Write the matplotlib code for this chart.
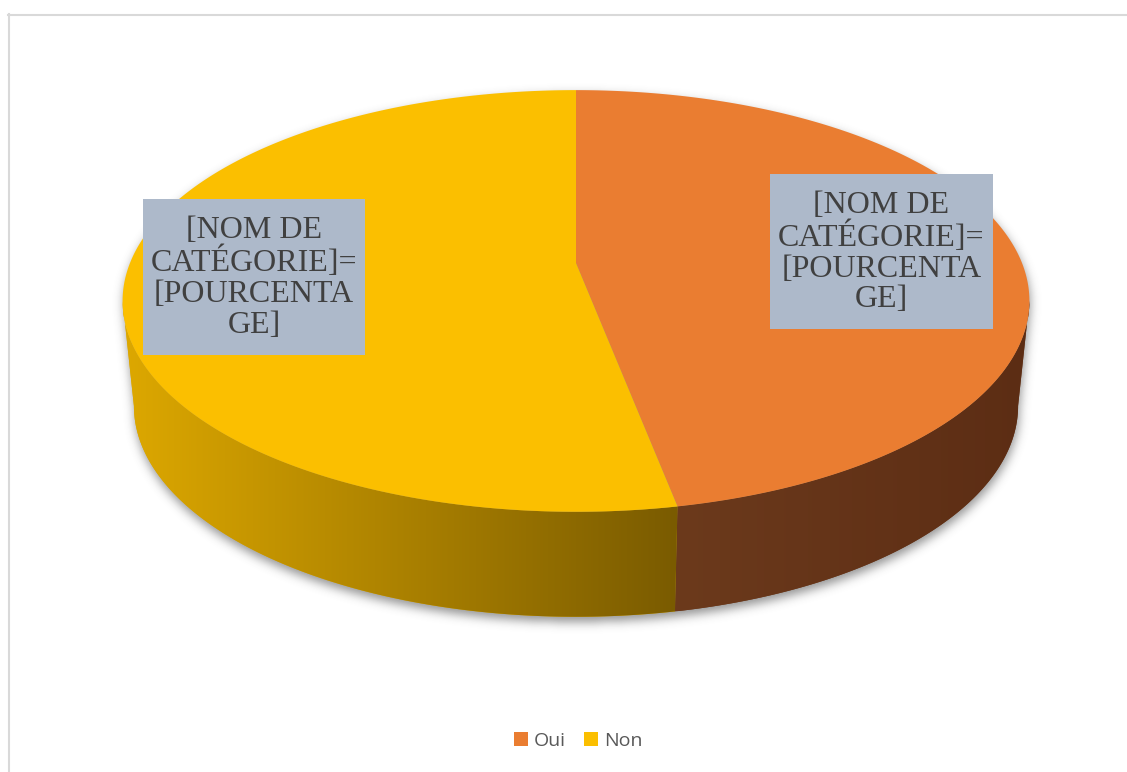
import numpy as np
import matplotlib.pyplot as plt
from matplotlib.patches import Polygon, Rectangle, Patch
from matplotlib.path import Path
from matplotlib.colors import LinearSegmentedColormap

# Donnees
categories = ['Oui', 'Non']
pourcentages = [47, 53]
couleurs_dessus = ['#EA7D31', '#FBBF00']
etiquette = '[NOM DE\nCATÉGORIE]=\n[POURCENTA\nGE]'

# Figure en coordonnees pixels
W, H = 1127, 772
fig = plt.figure(figsize=(W / 100, H / 100), dpi=100)
ax = fig.add_axes([0, 0, 1, 1])
ax.set_xlim(0, W)
ax.set_ylim(H, 0)
ax.axis('off')

# Geometrie du camembert 3D (perspective simple)
cx, cy = 576, 263
A, B, k = 446, 204, 0.18
epaisseur = 105
ech_bas = 0.975


def proj(theta, bas=False):
    u = np.sin(theta)
    v = np.cos(theta)
    w = 1 + k * v
    x = A * u / w
    y = -B * v / w
    if bas:
        x = x * ech_bas
        y = y + epaisseur
    return cx + x, cy + y


# angles cumules (sens horaire depuis le haut)
fractions = np.array(pourcentages) / np.sum(pourcentages)
bornes = np.concatenate([[0], np.cumsum(fractions)]) * 2 * np.pi

# limites de la face laterale visible
t_droite = np.arccos(-k)
t_gauche = 2 * np.pi - np.arccos(-k)

# Ombre floue sous le camembert
t_dos = np.linspace(t_gauche - 2 * np.pi, t_droite, 300)
t_av = np.linspace(t_droite, t_gauche, 300)
xs1, ys1 = proj(t_dos)
xs2, ys2 = proj(t_av, bas=True)
contour = np.column_stack([np.concatenate([xs1, xs2]), np.concatenate([ys1, ys2])])
gx, gy = np.meshgrid(np.arange(W) + 0.5, np.arange(H) + 0.5)
masque = Path(contour + [1, 5]).contains_points(
    np.column_stack([gx.ravel(), gy.ravel()])).reshape(H, W).astype(float)
sig = 5
kx = np.arange(-15, 16)
noyau = np.exp(-kx ** 2 / (2 * sig ** 2))
noyau /= noyau.sum()
flou = np.apply_along_axis(lambda r: np.convolve(r, noyau, mode='same'), 1, masque)
flou = np.apply_along_axis(lambda c: np.convolve(c, noyau, mode='same'), 0, flou)
ombre = np.zeros((H, W, 4))
ombre[..., :3] = 0.3
ombre[..., 3] = flou * 0.6
ax.imshow(ombre, extent=(0, W, H, 0), zorder=1, interpolation='bilinear')

# Faces laterales avec degrade (clair a gauche, fonce a droite)
degrades = [['#6C3A1C', '#5C2D14'], ['#DDA800', '#7A5B00']]
for i in range(len(categories)):
    t0 = max(bornes[i], t_droite)
    t1 = min(bornes[i + 1], t_gauche)
    if t1 <= t0:
        continue
    t = np.linspace(t0, t1, 200)
    xa, ya = proj(t)
    xb, yb = proj(t[::-1], bas=True)
    pts = np.column_stack([np.concatenate([xa, xb]), np.concatenate([ya, yb])])
    poly = Polygon(pts, closed=True, facecolor=degrades[i][0], edgecolor='none', zorder=2)
    ax.add_patch(poly)
    cmap = LinearSegmentedColormap.from_list('d%d' % i, degrades[i])
    x0, x1 = pts[:, 0].min(), pts[:, 0].max()
    y0, y1 = pts[:, 1].min(), pts[:, 1].max()
    grad = np.linspace(0, 1, 256)[None, :]
    im = ax.imshow(grad, cmap=cmap, extent=(x0, x1, y1, y0), aspect='auto',
                   zorder=2.5, interpolation='bilinear')
    im.set_clip_path(poly)

# Dessus du camembert
for i in range(len(categories)):
    t = np.linspace(bornes[i], bornes[i + 1], 300)
    xa, ya = proj(t)
    pts = np.column_stack([np.concatenate([[cx], xa]), np.concatenate([[cy], ya])])
    ax.add_patch(Polygon(pts, closed=True, facecolor=couleurs_dessus[i],
                         edgecolor='none', zorder=3))

# Etiquettes de donnees
boites = [(770, 174, 223, 155), (143, 199, 222, 156)]
for (bx, by, bw, bh) in boites:
    ax.add_patch(Rectangle((bx, by), bw, bh, facecolor='#ADB9CA', edgecolor='none', zorder=4))
    ax.text(bx + bw / 2, by + bh / 2 + 1, etiquette, ha='center', va='center',
            family='Liberation Serif', fontsize=23, color='#404040',
            linespacing=1.08, zorder=5)

# Bordure de la zone de graphique
ax.plot([8, W], [14.5, 14.5], color='#D9D9D9', lw=1.5, zorder=0)
ax.plot([8.5, 8.5], [14, H], color='#D9D9D9', lw=1.5, zorder=0)

# Legende
poignees = [Patch(facecolor=c, edgecolor='none') for c in couleurs_dessus]
fig.legend(poignees, categories, loc='center', bbox_to_anchor=(578 / W, 1 - 741 / H),
           ncol=2, frameon=False, handlelength=0.75, handleheight=0.75,
           handletextpad=0.3, columnspacing=0.9,
           prop={'family': 'Open Sans', 'size': 14}, labelcolor='#595959')

fig.savefig('out.png', dpi=100)
